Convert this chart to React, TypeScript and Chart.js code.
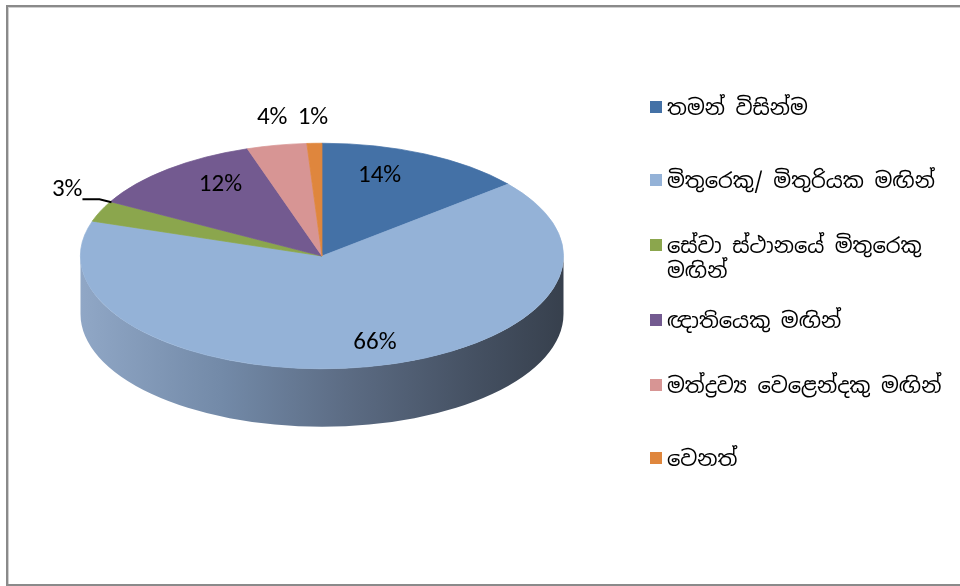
import React, { useEffect, useRef } from "react";
import { Chart, registerables } from "chart.js";

Chart.register(...registerables);

const categories = [
  "තමන් විසින්ම",
  "මිතුරෙකු/ මිතුරියක මඟින්",
  "සේවා ස්ථානයේ මිතුරෙකු මඟින්",
  "ඥාතියෙකු මඟින්",
  "මත්ද්‍රව්‍ය වෙළෙන්දකු මඟින්",
  "වෙනත්",
];
const shares = [14, 66, 3, 12, 4, 1];
const percentLabels = ["14%", "66%", "3%", "12%", "4%", "1%"];
const sliceColors = ["#4471A6", "#94B2D7", "#8BA64D", "#735A90", "#D79594", "#DF863D"];

// label placement: horizontal / vertical fraction of the radius along slice mid-angle
const labelFracX = [0.56, 1.17, 0.95, 0.66, 1.1, 1.2];
const labelFracY = [0.79, 0.78, 1.2, 0.82, 1.25, 1.23];
const labelLeader = [false, false, true, false, false, false];

const TILT = 113 / 242; // vertical squash of the pie (ellipse)
const DEPTH = 58;

const legendRowCenters = [107, 180, 245, 320, 385, 458];

const pie3dPlugin = {
  id: "pie3d",
  beforeDatasetsDraw(chart: any) {
    const ctx: CanvasRenderingContext2D = chart.ctx;
    const meta = chart.getDatasetMeta(0);
    if (!meta.data.length) return;
    const a0: any = meta.data[0];
    const cx = a0.x;
    const cy = a0.y;
    const R = a0.outerRadius;
    const ry = R * TILT;
    meta.data.forEach((arc: any, i: number) => {
      const s = arc.startAngle;
      const e = arc.endAngle;
      for (const shift of [-2 * Math.PI, 0, 2 * Math.PI]) {
        const lo = Math.max(s + shift, 0);
        const hi = Math.min(e + shift, Math.PI);
        if (hi <= lo) continue;
        const g = ctx.createLinearGradient(cx - R, 0, cx + R, 0);
        if (i === 1) {
          g.addColorStop(0, "#90A7C6");
          g.addColorStop(0.3, "#7289A7");
          g.addColorStop(0.55, "#5C6C84");
          g.addColorStop(0.8, "#465264");
          g.addColorStop(1, "#37404D");
        } else {
          g.addColorStop(0, sliceColors[i]);
          g.addColorStop(1, "#333");
        }
        ctx.save();
        ctx.beginPath();
        ctx.ellipse(cx, cy, R, ry, 0, lo, hi, false);
        ctx.lineTo(cx + R * Math.cos(hi), cy + DEPTH + ry * Math.sin(hi));
        ctx.ellipse(cx, cy + DEPTH, R, ry, 0, hi, lo, true);
        ctx.closePath();
        ctx.fillStyle = g;
        ctx.fill();
        ctx.restore();
      }
    });
    ctx.save();
    ctx.translate(cx, cy);
    ctx.scale(1, TILT);
    ctx.translate(-cx, -cy);
  },
  afterDatasetsDraw(chart: any) {
    const ctx: CanvasRenderingContext2D = chart.ctx;
    ctx.restore();
    const meta = chart.getDatasetMeta(0);
    ctx.save();
    ctx.font = "25px Carlito, 'Liberation Sans', Arial, sans-serif";
    ctx.fillStyle = "#000";
    ctx.textBaseline = "middle";
    meta.data.forEach((arc: any, i: number) => {
      const mid = (arc.startAngle + arc.endAngle) / 2;
      const R = arc.outerRadius;
      const px = arc.x + labelFracX[i] * R * Math.cos(mid);
      const py = arc.y + labelFracY[i] * R * TILT * Math.sin(mid);
      if (labelLeader[i]) {
        const ex = px - 29;
        const ey = py - 3;
        ctx.strokeStyle = "#000";
        ctx.lineWidth = 2;
        ctx.beginPath();
        ctx.moveTo(px, py);
        ctx.lineTo(px - 12, ey);
        ctx.lineTo(ex, ey);
        ctx.stroke();
        ctx.textAlign = "right";
        ctx.fillText(percentLabels[i], ex, ey - 10);
      } else {
        ctx.textAlign = "center";
        ctx.fillText(percentLabels[i], px, py);
      }
    });
    ctx.restore();
  },
};

export default function App() {
  const canvasRef = useRef<HTMLCanvasElement | null>(null);

  useEffect(() => {
    if (!canvasRef.current) return;
    const chart = new Chart(canvasRef.current, {
      type: "pie",
      data: {
        labels: categories,
        datasets: [
          {
            data: shares,
            backgroundColor: sliceColors,
            borderColor: sliceColors,
            borderWidth: 1,
            clip: false,
          } as any,
        ],
      },
      options: {
        responsive: false,
        animation: false,
        devicePixelRatio: 1,
        layout: { padding: { left: 80, right: 396, top: 14, bottom: 88 } },
        plugins: {
          legend: { display: false },
          tooltip: { enabled: false },
        },
      },
      plugins: [pie3dPlugin],
    });
    return () => chart.destroy();
  }, []);

  return (
    <div
      style={{
        position: "absolute",
        left: 0,
        top: 0,
        width: 960,
        height: 586,
        overflow: "hidden",
        background: "#fff",
      }}
    >
      <div
        style={{
          position: "absolute",
          left: 6,
          top: 5,
          width: 970,
          height: 577,
          border: "2px solid #8a8a8a",
          boxShadow: "inset 1px 1px 0 #cfcfcf",
        }}
      />
      <canvas
        ref={canvasRef}
        width={960}
        height={586}
        style={{ position: "absolute", left: 0, top: 0 }}
      />
      {categories.map((c, i) => (
        <div
          key={i}
          style={{
            position: "absolute",
            left: 650,
            top: legendRowCenters[i] - 12.5,
            width: 290,
            whiteSpace: i === 2 ? "normal" : "nowrap",
            fontFamily: "'Noto Sans Sinhala', 'Iskoola Pota', 'Noto Sans', 'DejaVu Sans', sans-serif",
            fontSize: 21,
            lineHeight: "25px",
            color: "#000",
          }}
        >
          <span
            style={{
              position: "absolute",
              left: 0,
              top: 6,
              width: 12,
              height: 12,
              background: sliceColors[i],
            }}
          />
          <div style={{ marginLeft: 17 }}>{c}</div>
        </div>
      ))}
    </div>
  );
}
